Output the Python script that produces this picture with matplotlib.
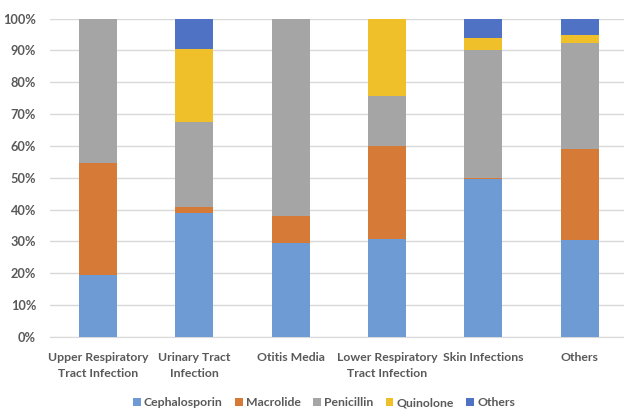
import matplotlib
matplotlib.use("Agg")
import matplotlib.pyplot as plt
import numpy as np

categories = ["Upper Respiratory\nTract Infection", "Urinary Tract\nInfection", "Otitis Media",
              "Lower Respiratory\nTract Infection", "Skin Infections", "Others"]
series_names = ["Cephalosporin", "Macrolide", "Penicillin", "Quinolone", "Others"]
cephalosporin = [19.5, 39.0, 29.6, 30.8, 49.5, 30.5]
macrolide = [35.2, 1.9, 8.5, 29.2, 0.3, 28.5]
penicillin = [45.1, 26.5, 61.9, 15.7, 40.2, 33.3]
quinolone = [0.4, 22.9, 0.0, 24.0, 3.8, 2.4]
others = [0.0, 9.7, 0.0, 0.3, 6.2, 5.3]
colors = ["#6F9BD4", "#D57A37", "#A5A5A5", "#F0C02B", "#5072C4"]
yticks = [0, 10, 20, 30, 40, 50, 60, 70, 80, 90, 100]

plt.rcParams['font.family'] = ['Lato', 'DejaVu Sans']
W, H = 624, 409
fig = plt.figure(figsize=(W/100, H/100), dpi=100)
ax = fig.add_axes([50/W, (H-337)/H, (624-50)/W, (337-18.5)/H])

data = [cephalosporin, macrolide, penicillin, quinolone, others]
x = np.arange(len(categories))
bottom = np.zeros(len(categories))
handles = []
for name, vals, c in zip(series_names, data, colors):
    b = ax.bar(x, vals, 0.395, bottom=bottom, color=c, label=name, zorder=3)
    handles.append(b)
    bottom += np.array(vals)

ax.set_xlim(-0.5, 5.46)
ax.set_ylim(0, 100)
ax.set_yticks(yticks)
ax.set_yticklabels([f"{v}%" for v in yticks])
ax.set_xticks(x)
ax.set_xticklabels(categories, linespacing=1.55)
for s in ["top", "right", "left"]:
    ax.spines[s].set_visible(False)
ax.spines["bottom"].set_color("#D9D9D9")
ax.grid(axis="y", color="#D9D9D9", linewidth=1, zorder=0)
ax.tick_params(axis="both", length=0, labelcolor="#595959")
ax.tick_params(axis="x", pad=10.5, labelsize=8.8)
ax.tick_params(axis="y", pad=10, labelsize=9.2)
for t in ax.get_xticklabels() + ax.get_yticklabels():
    t.set_fontweight("bold")

leg = fig.legend(handles=handles, loc="center", bbox_to_anchor=(324/W, 1-402.5/H), ncol=5,
                 frameon=False, handlelength=0.65, handleheight=0.65, handletextpad=0.25,
                 columnspacing=1.0, prop={"weight": "bold", "size": 8.8})
for t in leg.get_texts():
    t.set_color("#595959")

fig.savefig("out.png", dpi=100)
